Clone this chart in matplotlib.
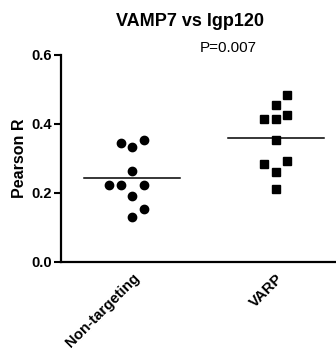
import numpy as np
import matplotlib
matplotlib.use("Agg")
import matplotlib.pyplot as plt

plt.rcParams["font.family"] = ["Liberation Sans", "DejaVu Sans"]

# data
groups = ["Non-targeting", "VARP"]
nontargeting = [0.344, 0.332, 0.353, 0.263, 0.221, 0.221, 0.221, 0.191, 0.152, 0.130]
varp = [0.485, 0.456, 0.414, 0.414, 0.426, 0.353, 0.282, 0.293, 0.261, 0.211]
p_text = "P=0.007"

# horizontal scatter slots (column-scatter layout)
nt_slot = [-1, 0, 1, 0, -2, -1, 1, 0, 1, 0]
varp_slot = [1, 0, -1, 0, 1, 0, -1, 1, 0, 0]
step = 0.08

fig = plt.figure(figsize=(3.36, 3.52), dpi=100)
ax = fig.add_axes([60.5 / 336, 90.5 / 352, 275.5 / 336, 206.5 / 352])

ax.plot(0 + np.array(nt_slot) * step, nontargeting, "o", color="black",
        markersize=6, linestyle="none")
ax.plot(1 + np.array(varp_slot) * step, varp, "s", color="black",
        markersize=5.6, linestyle="none")

# mean lines
for i, vals in enumerate([nontargeting, varp]):
    m = np.mean(vals)
    ax.plot([i - 0.335, i + 0.335], [m, m], color="black", linewidth=1.1)

ax.set_xlim(-0.5, 1.42)
ax.set_ylim(0, 0.6)
ax.set_yticks([0.0, 0.2, 0.4, 0.6])
ax.set_yticklabels(["0.0", "0.2", "0.4", "0.6"], fontweight="bold", fontsize=10.5)
ax.set_xticks([0, 1])
ax.set_xticklabels(groups, rotation=45, ha="right", rotation_mode="anchor",
                   fontweight="bold", fontsize=10.8)
ax.tick_params(axis="x", length=0, pad=7)
ax.tick_params(axis="y", length=5, width=1.5, pad=1)

for s in ["top", "right"]:
    ax.spines[s].set_visible(False)
for s in ["left", "bottom"]:
    ax.spines[s].set_linewidth(1.6)

ax.set_ylabel("Pearson R", fontweight="bold", fontsize=11.5, labelpad=3)

fig.text(190 / 336, 1 - 22 / 352, "VAMP7 vs lgp120", ha="center", va="center",
         fontweight="bold", fontsize=13)
fig.text(228 / 336, 1 - 48 / 352, p_text, ha="center", va="center", fontsize=11)

fig.savefig("out.png", dpi=100)
